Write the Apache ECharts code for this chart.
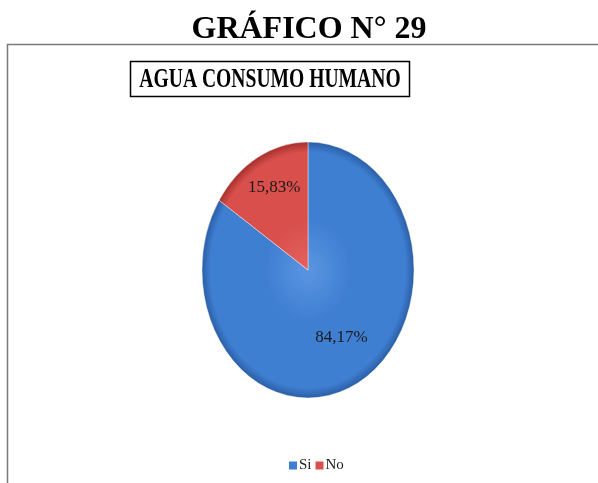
<!DOCTYPE html>
<html>
<head>
<meta charset="utf-8">
<style>
  html, body { margin: 0; padding: 0; background: #fff; }
  #chart { width: 598px; height: 483px; }
</style>
<script src="https://cdn.jsdelivr.net/npm/echarts@6/dist/echarts.min.js"></script>
</head>
<body>
<div id="chart"></div>
<script>
// datos del gráfico
var categories = ['Si', 'No'];
var values = [84.17, 15.83];
var labels = ['84,17%', '15,83%'];

var colors = ['#3f7fd2', '#d84f4c'];
var gradCenter = ['#5a95e0', '#e4625e'];
var gradEdge = ['#2b5ea6', '#a5302c'];
var labelRatio = [0.6, 0.73];

// elipse del pastel
var cx = 308, cy = 270, rx = 106, ry = 128;

var total = values.reduce(function (a, b) { return a + b; }, 0);
var starts = [];
var acc = 0;
for (var i = 0; i < values.length; i++) {
  starts.push(acc);
  acc += values[i];
}

function renderSlice(idx) {
  return function (params, api) {
    var v = api.value(0);
    var a0 = -Math.PI / 2 + starts[idx] / total * Math.PI * 2;
    var a1 = a0 + v / total * Math.PI * 2;
    var mid = (a0 + a1) / 2;
    var k = labelRatio[idx];
    return {
      type: 'group',
      children: [{
        type: 'sector',
        x: cx, y: cy,
        scaleX: rx / ry, scaleY: 1,
        shape: { cx: 0, cy: 0, r0: 0, r: ry, startAngle: a0, endAngle: a1, clockwise: true },
        style: {
          fill: {
            type: 'radial', x: 0, y: 0, r: ry, global: true,
            colorStops: [
              { offset: 0, color: gradCenter[idx] },
              { offset: 0.4, color: colors[idx] },
              { offset: 0.92, color: colors[idx] },
              { offset: 1, color: gradEdge[idx] }
            ]
          },
          stroke: 'rgba(255,255,255,0.45)',
          lineWidth: 1
        }
      }, {
        type: 'text',
        x: cx + Math.cos(mid) * rx * k + 3,
        y: cy + Math.sin(mid) * ry * k,
        style: {
          text: labels[idx],
          fill: '#1a1a1a',
          font: '17px "Liberation Serif", "Times New Roman", serif',
          align: 'center',
          verticalAlign: 'middle'
        }
      }]
    };
  };
}

var series = categories.map(function (name, idx) {
  return {
    name: name,
    type: 'custom',
    coordinateSystem: 'none',
    itemStyle: { color: colors[idx] },
    renderItem: renderSlice(idx),
    data: [[values[idx]]]
  };
});

var chart = echarts.init(document.getElementById('chart'));
chart.setOption({
  backgroundColor: '#fff',
  animation: false,
  legend: {
    data: categories,
    left: 284, top: 453,
    icon: 'rect',
    itemWidth: 8, itemHeight: 8,
    itemGap: 4,
    textStyle: { fontFamily: '"Liberation Serif", "Times New Roman", serif', fontSize: 15, color: '#222', padding: [0, 0, 0, -3] }
  },
  graphic: [{
    type: 'polyline',
    shape: { points: [[7.5, 483], [7.5, 44.5], [598, 44.5]] },
    style: { stroke: '#7a7a7a', lineWidth: 1.5, fill: null }
  }, {
    type: 'text',
    x: 309, y: 30,
    style: {
      text: 'GRÁFICO N° 29',
      font: 'bold 32px "Liberation Serif", "Times New Roman", serif',
      fill: '#000', align: 'center', verticalAlign: 'middle'
    }
  }, {
    type: 'rect',
    shape: { x: 130.5, y: 61.5, width: 279, height: 35 },
    style: { fill: '#fff', stroke: '#000', lineWidth: 1.5 }
  }, {
    type: 'text',
    x: 270, y: 80,
    scaleX: 0.7,
    style: {
      text: 'AGUA CONSUMO HUMANO',
      font: 'bold 28px "Liberation Serif", "Times New Roman", serif',
      fill: '#000', align: 'center', verticalAlign: 'middle'
    }
  }],
  series: series
});
</script>
</body>
</html>
